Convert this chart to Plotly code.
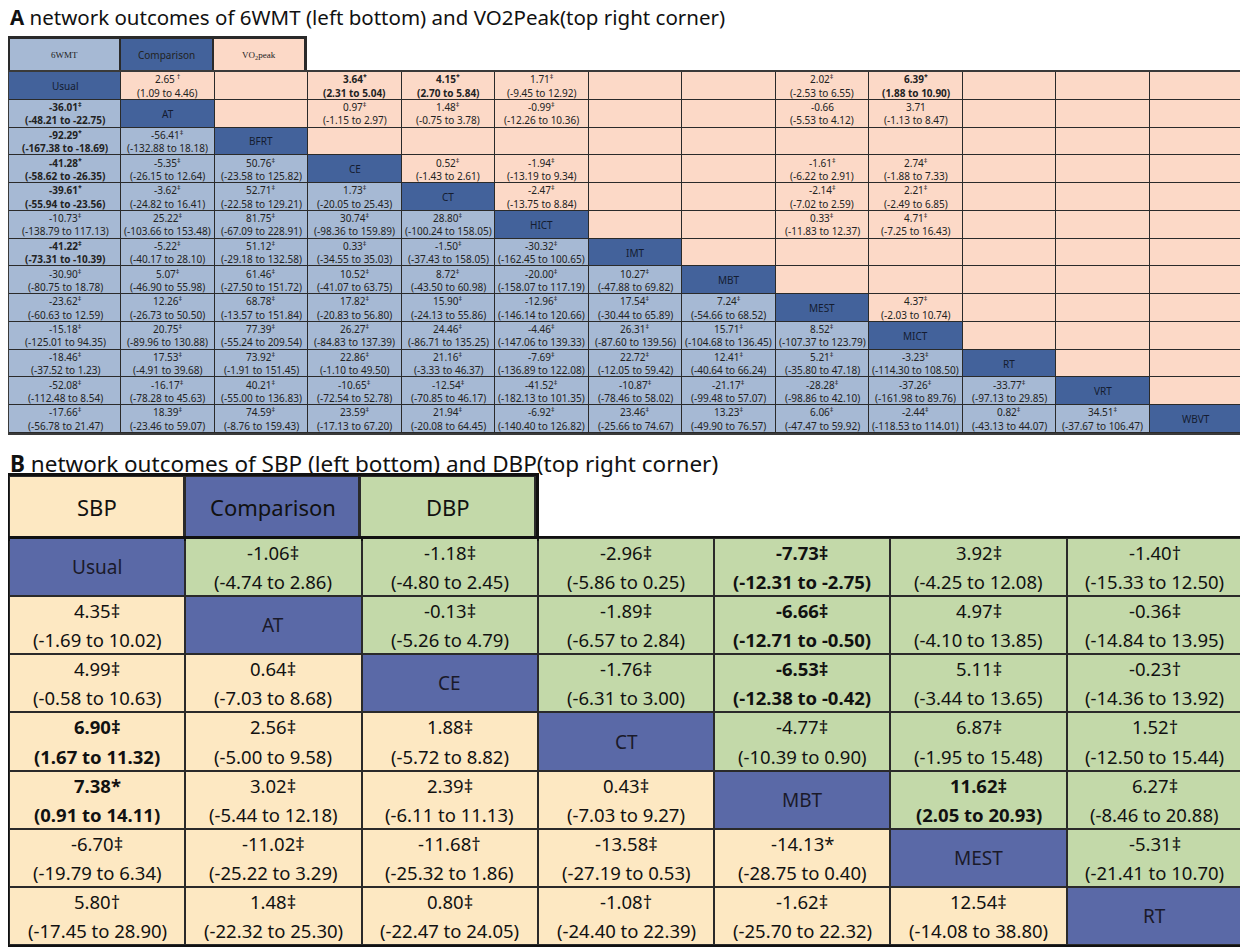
import plotly.graph_objects as go

# ---- Panel A: 6WMT (lower triangle) and VO2peak (upper triangle)
a_treat = ["Usual", "AT", "BFRT", "CE", "CT", "HICT", "IMT", "MBT", "MEST", "MICT", "RT", "VRT", "WBVT"]
a_header = ["6WMT", "Comparison", "VO<sub>2</sub>peak"]

# lower triangle, row i holds the comparisons with columns 0..i-1
wmt_est = [
    [],
    [-36.01],
    [-92.29, -56.41],
    [-41.28, -5.35, 50.76],
    [-39.61, -3.62, 52.71, 1.73],
    [-10.73, 25.22, 81.75, 30.74, 28.80],
    [-41.22, -5.22, 51.12, 0.33, -1.50, -30.32],
    [-30.90, 5.07, 61.46, 10.52, 8.72, -20.00, 10.27],
    [-23.62, 12.26, 68.78, 17.82, 15.90, -12.96, 17.54, 7.24],
    [-15.18, 20.75, 77.39, 26.27, 24.46, -4.46, 26.31, 15.71, 8.52],
    [-18.46, 17.53, 73.92, 22.86, 21.16, -7.69, 22.72, 12.41, 5.21, -3.23],
    [-52.08, -16.17, 40.21, -10.65, -12.54, -41.52, -10.87, -21.17, -28.28, -37.26, -33.77],
    [-17.66, 18.39, 74.59, 23.59, 21.94, -6.92, 23.46, 13.23, 6.06, -2.44, 0.82, 34.51],
]
wmt_lo = [
    [],
    [-48.21],
    [-167.38, -132.88],
    [-58.62, -26.15, -23.58],
    [-55.94, -24.82, -22.58, -20.05],
    [-138.79, -103.66, -67.09, -98.36, -100.24],
    [-73.31, -40.17, -29.18, -34.55, -37.43, -162.45],
    [-80.75, -46.90, -27.50, -41.07, -43.50, -158.07, -47.88],
    [-60.63, -26.73, -13.57, -20.83, -24.13, -146.14, -30.44, -54.66],
    [-125.01, -89.96, -55.24, -84.83, -86.71, -147.06, -87.60, -104.68, -107.37],
    [-37.52, -4.91, -1.91, -1.10, -3.33, -136.89, -12.05, -40.64, -35.80, -114.30],
    [-112.48, -78.28, -55.00, -72.54, -70.85, -182.13, -78.46, -99.48, -98.86, -161.98, -97.13],
    [-56.78, -23.46, -8.76, -17.13, -20.08, -140.40, -25.66, -49.90, -47.47, -118.53, -43.13, -37.67],
]
wmt_hi = [
    [],
    [-22.75],
    [-18.69, 18.18],
    [-26.35, 12.64, 125.82],
    [-23.56, 16.41, 129.21, 25.43],
    [117.13, 153.48, 228.91, 159.89, 158.05],
    [-10.39, 28.10, 132.58, 35.03, 158.05, 100.65],
    [18.78, 55.98, 151.72, 63.75, 60.98, 117.19, 69.82],
    [12.59, 50.50, 151.84, 56.80, 55.86, 120.66, 65.89, 68.52],
    [94.35, 130.88, 209.54, 137.39, 135.25, 139.33, 139.56, 136.45, 123.79],
    [1.23, 39.68, 151.45, 49.50, 46.37, 122.08, 59.42, 66.24, 47.18, 108.50],
    [8.54, 45.63, 136.83, 52.78, 46.17, 101.35, 58.02, 57.07, 42.10, 89.76, 29.85],
    [21.47, 59.07, 159.43, 67.20, 64.45, 126.82, 74.67, 76.57, 59.92, 114.01, 44.07, 106.47],
]
wmt_mark = ["", "‡", "*‡", "*‡‡", "*‡‡‡", "‡" * 5, "‡" * 6, "‡" * 7,
            "‡" * 8, "‡" * 9, "‡" * 10, "‡" * 11, "‡" * 12]
wmt_bold = [(1, 0), (2, 0), (3, 0), (4, 0), (6, 0)]

# upper triangle (sparse)
vo2_pairs = [("Usual", "AT"), ("Usual", "CE"), ("Usual", "CT"), ("Usual", "HICT"), ("Usual", "MEST"),
             ("Usual", "MICT"), ("AT", "CE"), ("AT", "CT"), ("AT", "HICT"), ("AT", "MEST"), ("AT", "MICT"),
             ("CE", "CT"), ("CE", "HICT"), ("CE", "MEST"), ("CE", "MICT"), ("CT", "HICT"), ("CT", "MEST"),
             ("CT", "MICT"), ("HICT", "MEST"), ("HICT", "MICT"), ("MEST", "MICT")]
vo2_est = [2.65, 3.64, 4.15, 1.71, 2.02, 6.39, 0.97, 1.48, -0.99, -0.66, 3.71,
           0.52, -1.94, -1.61, 2.74, -2.47, -2.14, 2.21, 0.33, 4.71, 4.37]
vo2_lo = [1.09, 2.31, 2.70, -9.45, -2.53, 1.88, -1.15, -0.75, -12.26, -5.53, -1.13,
          -1.43, -13.19, -6.22, -1.88, -13.75, -7.02, -2.49, -11.83, -7.25, -2.03]
vo2_hi = [4.46, 5.04, 5.84, 12.92, 6.55, 10.90, 2.97, 3.78, 10.36, 4.12, 8.47,
          2.61, 9.34, 2.91, 7.33, 8.84, 2.59, 6.85, 12.37, 16.43, 10.74]
vo2_mark = [" †", "*", "*", "‡", "‡", "*", "‡", "‡", "‡", "", "",
            "‡", "‡", "‡", "‡", "‡", "‡", "‡", "‡", "‡", "‡"]
vo2_bold = [("Usual", "CE"), ("Usual", "CT"), ("Usual", "MICT")]

# ---- Panel B: SBP (lower triangle) and DBP (upper triangle)
b_treat = ["Usual", "AT", "CE", "CT", "MBT", "MEST", "RT"]
b_header = ["SBP", "Comparison", "DBP"]

sbp_est = [[], [4.35], [4.99, 0.64], [6.90, 2.56, 1.88], [7.38, 3.02, 2.39, 0.43],
           [-6.70, -11.02, -11.68, -13.58, -14.13], [5.80, 1.48, 0.80, -1.08, -1.62, 12.54]]
sbp_lo = [[], [-1.69], [-0.58, -7.03], [1.67, -5.00, -5.72], [0.91, -5.44, -6.11, -7.03],
          [-19.79, -25.22, -25.32, -27.19, -28.75], [-17.45, -22.32, -22.47, -24.40, -25.70, -14.08]]
sbp_hi = [[], [10.02], [10.63, 8.68], [11.32, 9.58, 8.82], [14.11, 12.18, 11.13, 9.27],
          [6.34, 3.29, 1.86, 0.53, 0.40], [28.90, 25.30, 24.05, 22.39, 22.32, 38.80]]
sbp_mark = ["", "‡", "‡‡", "‡‡‡", "*‡‡‡", "‡‡†‡*", "†‡‡†‡‡"]
sbp_bold = [(3, 0), (4, 0)]

# upper triangle, row i holds the comparisons with columns i+1..6
dbp_est = [[-1.06, -1.18, -2.96, -7.73, 3.92, -1.40], [-0.13, -1.89, -6.66, 4.97, -0.36],
           [-1.76, -6.53, 5.11, -0.23], [-4.77, 6.87, 1.52], [11.62, 6.27], [-5.31], []]
dbp_lo = [[-4.74, -4.80, -5.86, -12.31, -4.25, -15.33], [-5.26, -6.57, -12.71, -4.10, -14.84],
          [-6.31, -12.38, -3.44, -14.36], [-10.39, -1.95, -12.50], [2.05, -8.46], [-21.41], []]
dbp_hi = [[2.86, 2.45, 0.25, -2.75, 12.08, 12.50], [4.79, 2.84, -0.50, 13.85, 13.95],
          [3.00, -0.42, 13.65, 13.92], [0.90, 15.48, 15.44], [20.93, 20.88], [10.70], []]
dbp_mark = ["‡‡‡‡‡†", "‡‡‡‡‡", "‡‡‡†", "‡‡†", "‡‡", "‡", ""]
dbp_bold = [(0, 4), (1, 4), (2, 4), (4, 5)]

FONT = "Noto Sans"
# the page adds an 8px body margin, so the figure is drawn 8px smaller
# and every reference pixel position is shifted by that margin
PAGE = 8
W, H = 1248 - PAGE, 952 - PAGE

A_COLORS = ["#a6b9d4", "#43629b", "#fcd9c7"]
B_COLORS = ["#fde8c2", "#5a69a7", "#c3d9a9"]


def scale(cols):
    return [[0, cols[0]], [0.5, cols[1]], [1, cols[2]]]


def dom_x(p0, p1):
    return [max(p0 - PAGE, 1) / W, min(p1 - PAGE, W - 1) / W]


def dom_y(p0, p1):
    return [1 - (p1 - PAGE) / H, 1 - (p0 - PAGE) / H]


fig = go.Figure()
ann = []

# column edges for panel A (first column is a bit wider)
a_w = [1.2] + [1] * (len(a_treat) - 1)
a_edges = [0]
for w in a_w:
    a_edges.append(a_edges[-1] + w)
a_cx = [(a_edges[k] + a_edges[k + 1]) / 2 for k in range(len(a_treat))]

na = len(a_treat)
za = [[0 if j < i else (1 if j == i else 2) for j in range(na)] for i in range(na)]

fig.add_trace(go.Heatmap(z=[[0, 1, 2]], x=a_edges[:4], y=[0], colorscale=scale(A_COLORS),
                         zmin=0, zmax=2, showscale=False, hoverinfo="skip",
                         xgap=2, ygap=2, xaxis="x", yaxis="y"))
fig.add_trace(go.Heatmap(z=za, x=a_edges, y=list(range(na)), colorscale=scale(A_COLORS),
                         zmin=0, zmax=2, showscale=False, hoverinfo="skip",
                         xgap=1, ygap=1, xaxis="x2", yaxis="y2"))

nb = len(b_treat)
zb = [[0 if j < i else (1 if j == i else 2) for j in range(nb)] for i in range(nb)]
fig.add_trace(go.Heatmap(z=[[0, 1, 2]], x=[0, 1, 2], y=[0], colorscale=scale(B_COLORS),
                         zmin=0, zmax=2, showscale=False, hoverinfo="skip",
                         xgap=3, ygap=3, xaxis="x3", yaxis="y3"))
fig.add_trace(go.Heatmap(z=zb, x=list(range(nb)), y=list(range(nb)), colorscale=scale(B_COLORS),
                         zmin=0, zmax=2, showscale=False, hoverinfo="skip",
                         xgap=2, ygap=2, xaxis="x4", yaxis="y4"))


def add_cell(ax, x, y, est, lo, hi, mark, bold, size, dy, sup, color):
    l1 = f"{est:.2f}" + (f"<sup>{mark}</sup>" if sup and mark else mark)
    l2 = f"({lo:.2f} to {hi:.2f})"
    if bold:
        l1, l2 = f"<b>{l1}</b>", f"<b>{l2}</b>"
    for txt, yy in ((l1, y - dy), (l2, y + dy)):
        ann.append(dict(text=txt, x=x, y=yy, xref="x" + ax, yref="y" + ax, showarrow=False,
                        font=dict(family=FONT, size=size, color=color)))


def add_label(ax, x, y, txt, size, color, family=FONT):
    ann.append(dict(text=txt, x=x, y=y, xref="x" + ax, yref="y" + ax, showarrow=False,
                    font=dict(family=family, size=size, color=color)))


# panel A header
for k, h in enumerate(a_header):
    fam = FONT if k == 1 else "Liberation Serif"
    add_label("", a_cx[k], 0, h, 10 if k == 1 else 9, "#222222", fam)

# panel A body
for i in range(na):
    add_label("2", a_cx[i], i, a_treat[i], 10, "#141c30")
    for j in range(i):
        add_cell("2", a_cx[j], i, wmt_est[i][j], wmt_lo[i][j], wmt_hi[i][j], wmt_mark[i][j],
                 (i, j) in wmt_bold, 10, 0.24, True, "#222222")
for k, (r, c) in enumerate(vo2_pairs):
    i, j = a_treat.index(r), a_treat.index(c)
    add_cell("2", a_cx[j], i, vo2_est[k], vo2_lo[k], vo2_hi[k], vo2_mark[k],
             (r, c) in vo2_bold, 10, 0.24, True, "#222222")

# panel B header
for k, h in enumerate(b_header):
    add_label("3", k, 0, h, 22, "#111111")

# panel B body
for i in range(nb):
    add_label("4", i, i, b_treat[i], 19, "#1a1a2a")
    for j in range(i):
        add_cell("4", j, i, sbp_est[i][j], sbp_lo[i][j], sbp_hi[i][j], sbp_mark[i][j],
                 (i, j) in sbp_bold, 18.5, 0.25, False, "#111111")
    for k, j in enumerate(range(i + 1, nb)):
        add_cell("4", j, i, dbp_est[i][k], dbp_lo[i][k], dbp_hi[i][k], dbp_mark[i][k],
                 (i, j) in dbp_bold, 18.5, 0.25, False, "#111111")

# panel titles
ann.append(dict(text="<b>A</b> network outcomes of 6WMT (left bottom) and VO2Peak(top right corner)",
                x=0, y=1 - (17 - PAGE) / H, xref="paper", yref="paper", xanchor="left", yanchor="middle",
                showarrow=False, font=dict(family=FONT, size=20.5, color="#111111")))
ann.append(dict(text="<b>B</b> network outcomes of SBP (left bottom) and DBP(top right corner)",
                x=0, y=1 - (463 - PAGE) / H, xref="paper", yref="paper", xanchor="left", yanchor="middle",
                showarrow=False, font=dict(family=FONT, size=22.5, color="#111111")))


def axis(domain, rng, lw, lc, anchor):
    return dict(domain=domain, range=rng, anchor=anchor, showgrid=False, zeroline=False,
                showticklabels=False, ticks="", showline=True, mirror=True, linewidth=lw,
                linecolor=lc, fixedrange=True)


fig.update_layout(
    width=W, height=H,
    margin=dict(l=0, r=0, t=0, b=0),
    paper_bgcolor="white",
    plot_bgcolor="#2a2a2a",
    showlegend=False,
    annotations=ann,
    xaxis=axis(dom_x(5, 305), [0, a_edges[3]], 2, "#2a2a2a", "y"),
    yaxis=axis(dom_y(38, 72), [0.5, -0.5], 2, "#2a2a2a", "x"),
    xaxis2=axis(dom_x(5, 1243), [0, a_edges[-1]], 1.5, "#3a3a3a", "y2"),
    yaxis2=axis(dom_y(72, 433), [na - 0.5, -0.5], 1.5, "#3a3a3a", "x2"),
    xaxis3=axis(dom_x(5, 536), [-0.5, 2.5], 3, "#111111", "y3"),
    yaxis3=axis(dom_y(476, 538), [0.5, -0.5], 3, "#111111", "x3"),
    xaxis4=axis(dom_x(5, 1243), [-0.5, nb - 0.5], 2, "#111111", "y4"),
    yaxis4=axis(dom_y(538, 945), [nb - 0.5, -0.5], 2, "#111111", "x4"),
)

fig.write_html("out.html")
